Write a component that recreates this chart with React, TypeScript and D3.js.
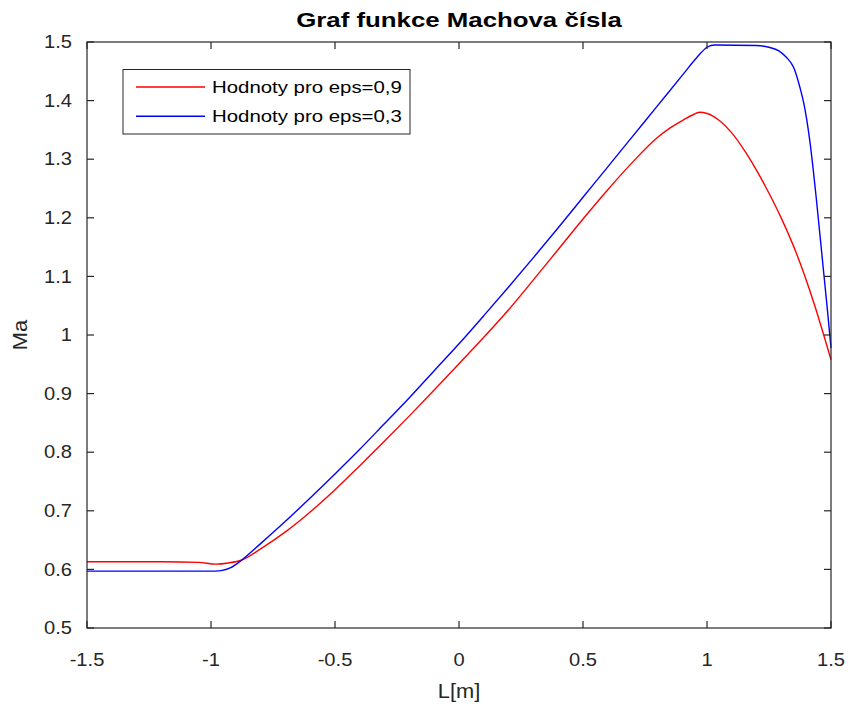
import React from "react";
import * as d3 from "d3";

const title = "Graf funkce Machova čísla";
const xLabel = "L[m]";
const yLabel = "Ma";
const legendLabels = ["Hodnoty pro eps=0,9", "Hodnoty pro eps=0,3"];
const seriesColors = ["#ff0000", "#0000ff"];

const xTicks = [-1.5, -1, -0.5, 0, 0.5, 1, 1.5];
const yTicks = [0.5, 0.6, 0.7, 0.8, 0.9, 1, 1.1, 1.2, 1.3, 1.4, 1.5];

// eps = 0.9 (red)
const redL = [-1.5, -1.2, -1.05, -0.98, -0.93, -0.876, -0.8, -0.7, -0.6, -0.5, -0.4, -0.3, -0.2, -0.1, 0, 0.1, 0.2, 0.3, 0.4, 0.5, 0.6, 0.7, 0.8, 0.85, 0.9, 0.94, 0.97, 1.0, 1.05, 1.1, 1.16, 1.2, 1.24, 1.3, 1.36, 1.43, 1.5];
const redMa = [0.613, 0.613, 0.612, 0.609, 0.611, 0.616, 0.635, 0.664, 0.698, 0.736, 0.777, 0.819, 0.862, 0.906, 0.951, 0.996, 1.043, 1.094, 1.146, 1.198, 1.248, 1.295, 1.337, 1.353, 1.366, 1.375, 1.38, 1.378, 1.366, 1.345, 1.309, 1.281, 1.25, 1.199, 1.14, 1.056, 0.958];

// eps = 0.3 (blue)
const blueL = [-1.5, -1.2, -1.0, -0.96, -0.92, -0.876, -0.8, -0.7, -0.6, -0.5, -0.4, -0.3, -0.2, -0.1, 0, 0.1, 0.2, 0.3, 0.4, 0.5, 0.6, 0.7, 0.8, 0.9, 0.96, 1.0, 1.03, 1.2, 1.25, 1.29, 1.32, 1.35, 1.375, 1.39, 1.415, 1.44, 1.465, 1.485, 1.5];
const blueMa = [0.597, 0.597, 0.597, 0.598, 0.603, 0.616, 0.644, 0.682, 0.722, 0.763, 0.805, 0.849, 0.893, 0.939, 0.985, 1.033, 1.082, 1.132, 1.183, 1.235, 1.287, 1.339, 1.391, 1.443, 1.474, 1.491, 1.495, 1.494, 1.491, 1.485, 1.474, 1.456, 1.422, 1.396, 1.33, 1.236, 1.13, 1.045, 0.978];

const W = 848;
const H = 704;
const left = 87;
const right = 831;
const top = 42;
const bottom = 628;
const FONT = "'Liberation Sans', Arial, Helvetica, sans-serif";
const AX = "#262626";

function SText(props: {
  x: number;
  y: number;
  sx: number;
  size: number;
  anchor?: string;
  weight?: string;
  rotate?: number;
  fill?: string;
  children: React.ReactNode;
}) {
  const { x, y, sx, size, anchor = "start", weight = "normal", rotate = 0, fill = AX } = props;
  return (
    <text
      transform={`translate(${x},${y}) rotate(${rotate}) scale(${sx},1)`}
      textAnchor={anchor}
      fontFamily={FONT}
      fontSize={size}
      fontWeight={weight}
      fill={fill}
    >
      {props.children}
    </text>
  );
}

export default function App() {
  const x = d3.scaleLinear().domain([-1.5, 1.5]).range([left, right]);
  const y = d3.scaleLinear().domain([0.5, 1.5]).range([bottom, top]);
  const line = d3
    .line<[number, number]>()
    .x((d) => x(d[0]))
    .y((d) => y(d[1]))
    .curve(d3.curveMonotoneX);

  const red: [number, number][] = redL.map((l, i) => [l, redMa[i]]);
  const blue: [number, number][] = blueL.map((l, i) => [l, blueMa[i]]);
  const fmt = (v: number) => String(+v.toFixed(2));
  const tl = 7;

  return (
    <svg width={W} height={H} style={{ position: "absolute", left: 0, top: 0, background: "#fff" }}>
      <rect x={0} y={0} width={W} height={H} fill="#fff" />
      <defs>
        <clipPath id="plotclip">
          <rect x={left - 2} y={top - 2} width={right - left + 4} height={bottom - top + 4} />
        </clipPath>
      </defs>

      <g clipPath="url(#plotclip)">
        <path d={line(red) || ""} fill="none" stroke={seriesColors[0]} strokeWidth={1.4} />
        <path d={line(blue) || ""} fill="none" stroke={seriesColors[1]} strokeWidth={1.4} />
      </g>

      <rect x={left} y={top} width={right - left} height={bottom - top} fill="none" stroke={AX} strokeWidth={1.2} />

      {xTicks.map((t) => (
        <g key={"xt" + t}>
          <line x1={x(t)} x2={x(t)} y1={bottom} y2={bottom - tl} stroke={AX} strokeWidth={1.2} />
          <line x1={x(t)} x2={x(t)} y1={top} y2={top + tl} stroke={AX} strokeWidth={1.2} />
          <SText x={x(t)} y={666} sx={1.15} size={17.5} anchor="middle">
            {fmt(t)}
          </SText>
        </g>
      ))}

      {yTicks.map((t) => (
        <g key={"yt" + t}>
          <line x1={left} x2={left + tl} y1={y(t)} y2={y(t)} stroke={AX} strokeWidth={1.2} />
          <line x1={right} x2={right - tl} y1={y(t)} y2={y(t)} stroke={AX} strokeWidth={1.2} />
          <SText x={72} y={y(t) + 6.2} sx={1.15} size={17.5} anchor="end">
            {fmt(t)}
          </SText>
        </g>
      ))}

      <SText x={(left + right) / 2} y={27} sx={1.23} size={21} anchor="middle" weight="bold" fill="#000">
        {title}
      </SText>

      <SText x={(left + right) / 2} y={698} sx={1.12} size={19.5} anchor="middle">
        {xLabel}
      </SText>
      <SText x={27} y={(top + bottom) / 2} sx={1.12} size={19.5} anchor="middle" rotate={-90}>
        {yLabel}
      </SText>

      <rect x={123} y={69.5} width={287} height={64.5} fill="#fff" stroke={AX} strokeWidth={1} />
      {legendLabels.map((lab, i) => {
        const cy = 87 + i * 29.3;
        return (
          <g key={lab}>
            <line x1={136} x2={205} y1={cy} y2={cy} stroke={seriesColors[i]} strokeWidth={1.4} />
            <SText x={212} y={cy + 6} sx={1.2} size={17} fill="#000">
              {lab}
            </SText>
          </g>
        );
      })}
    </svg>
  );
}
